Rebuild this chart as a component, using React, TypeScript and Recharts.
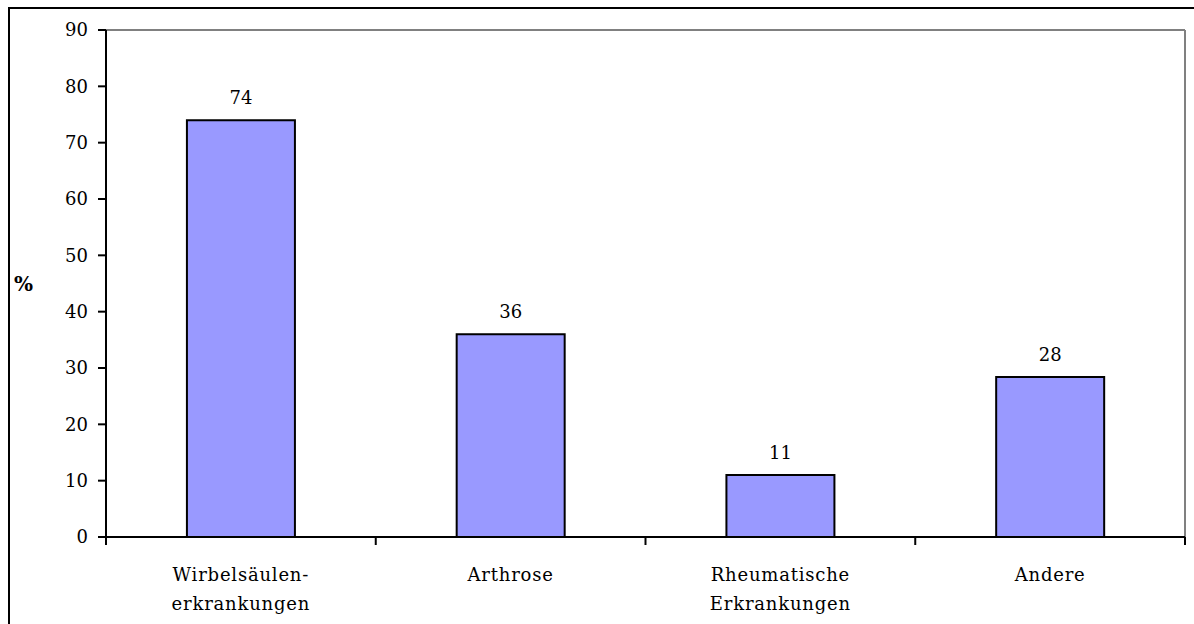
import { BarChart, Bar, XAxis, YAxis, LabelList, ReferenceLine } from "recharts";

const categories = [
  "Wirbelsäulen-\nerkrankungen",
  "Arthrose",
  "Rheumatische\nErkrankungen",
  "Andere",
];
const percent = [74, 36, 11, 28.4];
const yTicks = [0, 10, 20, 30, 40, 50, 60, 70, 80, 90];

const data = categories.map((name, i) => ({ name, value: percent[i] }));

const font = "DejaVu Serif";

// label in the band centre, tick marks on the band edges (Excel style)
function CategoryTick(props: any) {
  const { x, y, payload, width, visibleTicksCount, index } = props;
  const half = width / visibleTicksCount / 2;
  const lines = String(payload.value).split("\n");
  const markTop = y - 8;
  return (
    <g>
      <line x1={x - half} x2={x - half} y1={markTop} y2={y} stroke="#000" strokeWidth={2} />
      {index === visibleTicksCount - 1 && (
        <line x1={x + half} x2={x + half} y1={markTop} y2={y} stroke="#000" strokeWidth={2} />
      )}
      <text
        x={x}
        y={y}
        textAnchor="middle"
        fill="#000"
        fontFamily={font}
        fontSize={18}
        letterSpacing={0.8}
      >
        {lines.map((l, i) => (
          <tspan key={i} x={x} dy={i === 0 ? 36 : 29}>
            {l}
          </tspan>
        ))}
      </text>
    </g>
  );
}

export default function App() {
  return (
    <div
      style={{
        position: "absolute",
        left: 0,
        top: 0,
        width: 1194,
        height: 624,
        overflow: "hidden",
        background: "#fff",
      }}
    >
      <div
        style={{
          position: "absolute",
          left: 8,
          top: 7,
          width: 1200,
          height: 640,
          border: "2px solid #000",
        }}
      />
      <div style={{ position: "absolute", left: 0, top: 0 }}>
        <BarChart
          width={1194}
          height={624}
          data={data}
          margin={{ top: 30, right: 9, bottom: 0, left: 0 }}
          barCategoryGap="30%"
        >
          <XAxis
            dataKey="name"
            height={87}
            axisLine={{ stroke: "#000", strokeWidth: 2 }}
            tickLine={false}
            tickSize={8}
            tickMargin={0}
            interval={0}
            tick={<CategoryTick />}
          />
          <ReferenceLine y={90} stroke="#808080" strokeWidth={2} ifOverflow="visible" />
          <ReferenceLine
            x={categories[categories.length - 1]}
            position="end"
            stroke="#808080"
            strokeWidth={2}
            ifOverflow="visible"
          />
          <YAxis
            width={106}
            domain={[0, 90]}
            ticks={yTicks}
            tickSize={8}
            tickMargin={10}
            axisLine={{ stroke: "#000", strokeWidth: 2 }}
            tickLine={{ stroke: "#000", strokeWidth: 2 }}
            tick={{ fill: "#000", fontFamily: font, fontSize: 18 }}
            label={{
              value: "%",
              position: "insideLeft",
              offset: 14,
              fill: "#000",
              fontFamily: font,
              fontSize: 20,
              fontWeight: "bold",
            }}
          />
          <Bar
            dataKey="value"
            fill="#9999FF"
            stroke="#000"
            strokeWidth={2}
            isAnimationActive={false}
          >
            <LabelList
              dataKey="value"
              position="top"
              offset={16}
              formatter={(v: any) => Math.round(Number(v))}
              fill="#000"
              fontFamily={font}
              fontSize={18}
            />
          </Bar>
        </BarChart>
      </div>
    </div>
  );
}
